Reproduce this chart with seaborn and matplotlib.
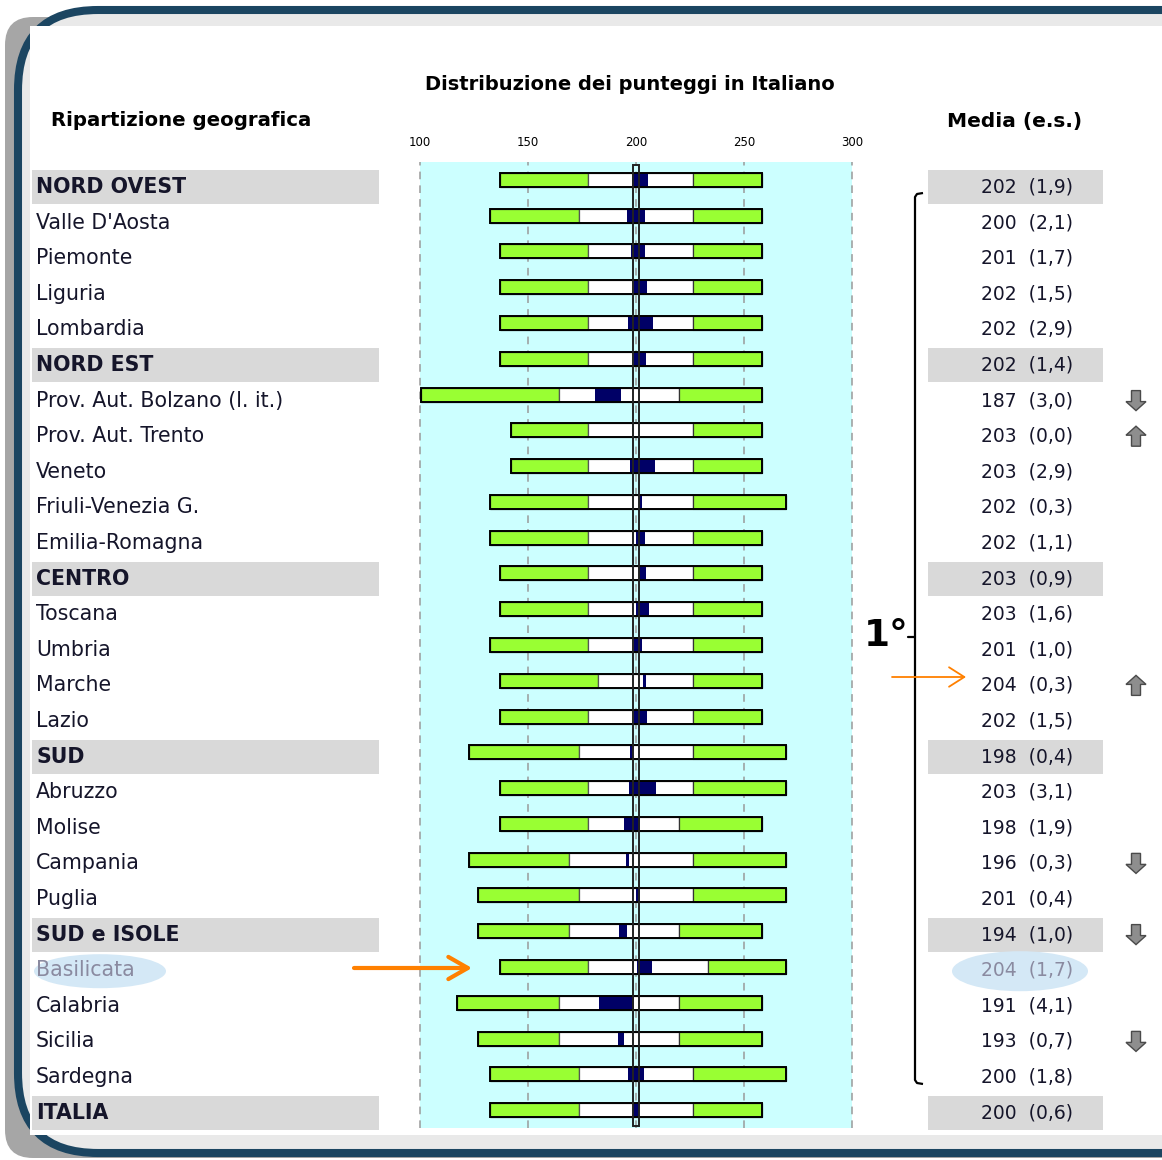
import matplotlib
matplotlib.use("Agg")
import numpy as np
import pandas as pd
import matplotlib.pyplot as plt
import seaborn as sns
from matplotlib.patches import FancyBboxPatch, Rectangle, Ellipse, Polygon

# Data
regions = ["NORD OVEST", "Valle D'Aosta", "Piemonte", "Liguria", "Lombardia",
           "NORD EST", "Prov. Aut. Bolzano (l. it.)", "Prov. Aut. Trento", "Veneto",
           "Friuli-Venezia G.", "Emilia-Romagna", "CENTRO", "Toscana", "Umbria",
           "Marche", "Lazio", "SUD", "Abruzzo", "Molise", "Campania", "Puglia",
           "SUD e ISOLE", "Basilicata", "Calabria", "Sicilia", "Sardegna", "ITALIA"]
groups = ["NORD OVEST", "NORD EST", "CENTRO", "SUD", "SUD e ISOLE", "ITALIA"]

p5 = [137, 132.5, 137, 137, 137, 137, 100.5, 142, 142, 132.5, 132.5, 137, 137, 132.5,
      137, 137, 122.5, 137, 137, 122.5, 127, 127, 137, 117, 127, 132.5, 132.5]
p25 = [178, 173.5, 178, 178, 178, 178, 164.5, 178, 178, 178, 178, 178, 178, 178,
       182.5, 178, 173.5, 178, 178, 169, 173.5, 169, 178, 164.5, 164.5, 173.5, 173.5]
p75 = [226.5, 226.5, 226.5, 226.5, 226.5, 226.5, 220, 226.5, 226.5, 226.5, 226.5, 226.5,
       226.5, 226.5, 226.5, 226.5, 226.5, 226.5, 220, 226.5, 226.5, 220, 233.5, 220, 220,
       226.5, 226.5]
p95 = [258.5, 258.5, 258.5, 258.5, 258.5, 258.5, 258.5, 258.5, 258.5, 269.5, 258.5, 258.5,
       258.5, 258.5, 258.5, 258.5, 269.5, 269.5, 258.5, 269.5, 269.5, 258.5, 269.5, 258.5,
       258.5, 269.5, 258.5]
media = [202, 200, 201, 202, 202, 202, 187, 203, 203, 202, 202, 203, 203, 201, 204, 202,
         198, 203, 198, 196, 201, 194, 204, 191, 193, 200, 200]
es = [1.9, 2.1, 1.7, 1.5, 2.9, 1.4, 3.0, 0.0, 2.9, 0.3, 1.1, 0.9, 1.6, 1.0, 0.3, 1.5,
      0.4, 3.1, 1.9, 0.3, 0.4, 1.0, 1.7, 4.1, 0.7, 1.8, 0.6]
trend = ["", "", "", "", "", "", "down", "up", "", "", "", "", "", "", "up", "",
         "", "", "", "down", "", "down", "", "", "down", "", ""]
ticks = [100, 150, 200, 250, 300]
highlight = "Basilicata"

df = pd.DataFrame({"region": regions, "p5": p5, "p25": p25, "p75": p75, "p95": p95,
                   "media": media, "es": es, "trend": trend})
df["lo"] = df["media"] - 1.96 * df["es"]
df["hi"] = df["media"] + 1.96 * df["es"]
df["y"] = np.arange(len(df))

sns.set_style("white")
plt.rcParams['font.family'] = ['DejaVu Sans']

GREEN = "#99ff33"
NAVY = "#000066"
CYAN = "#ccffff"
TXT = "#15152a"
BAND = "#d9d9d9"

W, H = 1162, 1160
fig = plt.figure(figsize=(W / 100, H / 100), dpi=100)
fig.patch.set_facecolor("white")

# background / frame layer in pixel coordinates
bg = fig.add_axes([0, 0, 1, 1], zorder=0)
bg.set_xlim(0, W)
bg.set_ylim(H, 0)
bg.axis("off")

bg.add_patch(FancyBboxPatch((5, 17), 1300, 1141, boxstyle="round,pad=0,rounding_size=28",
                            fc="#a6a6a6", ec="none"))
bg.add_patch(FancyBboxPatch((18, 10), 1300, 1143, boxstyle="round,pad=0,rounding_size=80",
                            fc="#e9e9e9", ec="#1b4561", lw=5.8))
bg.add_patch(Rectangle((30, 26), W - 30, 1109, fc="white", ec="none"))

bg.text(630, 85, "Distribuzione dei punteggi in Italiano", ha="center", va="center",
        fontsize=14, fontweight="bold", color="black")
bg.text(51, 121, "Ripartizione geografica", ha="left", va="center",
        fontsize=14.2, fontweight="bold", color="black")
bg.text(1015, 121, "Media (e.s.)", ha="center", va="center",
        fontsize=14.5, fontweight="bold", color="black")

# row labels, bands and mean values
for i, r in df.iterrows():
    ty = 187 + i * 35.6
    is_group = r["region"] in groups
    col = TXT
    if is_group:
        bg.add_patch(Rectangle((32, ty - 17), 347, 34, fc=BAND, ec="none"))
        bg.add_patch(Rectangle((928, ty - 17), 175, 34, fc=BAND, ec="none"))
    if r["region"] == highlight:
        bg.add_patch(Ellipse((100, ty + 1), 132, 34, fc="#d4e8f6", ec="none"))
        bg.add_patch(Ellipse((1020, ty + 1), 136, 40, fc="#d4e8f6", ec="none"))
        col = "#8a8aa0"
    bg.text(36, ty, r["region"], ha="left", va="center", fontsize=14.8,
            fontweight="bold" if is_group else "normal", color=col)
    val = f"{r['media']}  ({r['es']:.1f})".replace(".", ",")
    bg.text(1027, ty, val, ha="center", va="center", fontsize=13.5, color=col)

    # significance arrows
    cx, cy = 1136, ty
    if r["trend"] == "down":
        pts = [(cx - 4.5, cy - 10), (cx + 4.5, cy - 10), (cx + 4.5, cy + 1), (cx + 10, cy + 1),
               (cx, cy + 10), (cx - 10, cy + 1), (cx - 4.5, cy + 1)]
    elif r["trend"] == "up":
        pts = [(cx - 4.5, cy + 10), (cx + 4.5, cy + 10), (cx + 4.5, cy - 1), (cx + 10, cy - 1),
               (cx, cy - 10), (cx - 10, cy - 1), (cx - 4.5, cy - 1)]
    else:
        pts = None
    if pts:
        bg.add_patch(Polygon(pts, closed=True, fc="#8e8e8e", ec="#4a4a4a", lw=1))

# bracket and "1°"
bg.plot([923, 917, 915, 915, 917, 923], [193, 194, 197, 1080, 1083, 1084],
        color="black", lw=1.6, solid_capstyle="butt")
bg.plot([908, 915], [637, 637], color="black", lw=1.6)
bg.text(864, 636, "1°", ha="left", va="center", fontsize=27, fontweight="bold", color="black")

# main chart
ax = fig.add_axes([420 / W, 1 - 1128 / H, 432 / W, 966 / H], zorder=2)
ax.set_facecolor(CYAN)
ax.set_xlim(100, 300)
ax.set_ylim(len(df) - 0.5, -0.5)
sns.despine(ax=ax, left=True, bottom=True, right=True, top=True)

for t in ticks:
    ax.axvline(t, color="#9a9a9a", lw=1.1, ls=(0, (5, 4)), clip_on=False, zorder=1)

h = 0.39
ax.barh(df["y"], df["p25"] - df["p5"], left=df["p5"], height=h, color=GREEN,
        edgecolor="#333333", lw=0.9, zorder=3)
ax.barh(df["y"], df["p75"] - df["p25"], left=df["p25"], height=h, color="white",
        edgecolor="#555555", lw=0.9, zorder=3)
ax.barh(df["y"], df["hi"] - df["lo"], left=df["lo"], height=h, color=NAVY,
        lw=0, zorder=4)
ax.barh(df["y"], df["p95"] - df["p75"], left=df["p75"], height=h, color=GREEN,
        edgecolor="#333333", lw=0.9, zorder=3)
ax.barh(df["y"], df["p95"] - df["p5"], left=df["p5"], height=h, fill=False,
        edgecolor="black", lw=1.4, zorder=5)

# Italy confidence band across all rows
it = df[df["region"] == "ITALIA"].iloc[0]
ax.add_patch(Rectangle((it["lo"], -0.42), it["hi"] - it["lo"], len(df) - 0.13,
                       fill=False, ec="#222222", lw=1.4, zorder=6, clip_on=False))

ax.set_xticks(ticks)
ax.set_xticklabels([str(t) for t in ticks])
ax.xaxis.tick_top()
ax.tick_params(axis="x", length=0, pad=9, labelsize=8.5, colors="black")
ax.set_yticks([])

# orange pointers on top
fg = fig.add_axes([0, 0, 1, 1], zorder=3)
fg.set_xlim(0, W)
fg.set_ylim(H, 0)
fg.axis("off")
fg.patch.set_alpha(0)
fg.annotate("", xy=(966, 677), xytext=(892, 677),
            arrowprops=dict(arrowstyle="->,head_length=1.1,head_width=0.7",
                            color="#ff8000", lw=1.3, shrinkA=0, shrinkB=0))
fg.annotate("", xy=(472, 968), xytext=(354, 968),
            arrowprops=dict(arrowstyle="->,head_length=1.4,head_width=0.8",
                            color="#ff8000", lw=3, shrinkA=0, shrinkB=0))

fig.savefig("out.png", dpi=100)
plt.close()
